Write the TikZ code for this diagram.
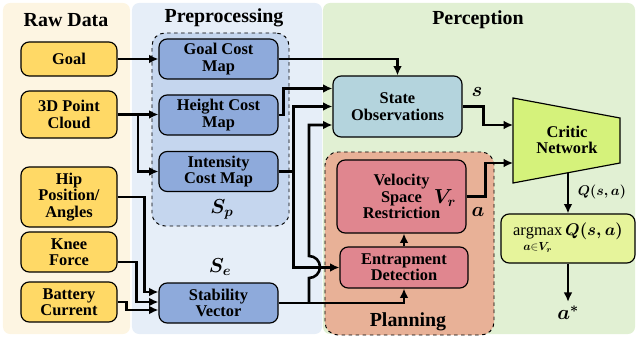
\documentclass[tikz,border=0pt]{standalone}
\usepackage{amsmath}
\usepackage{fontspec}
\setmainfont{Liberation Serif}
\usetikzlibrary{shapes, arrows.meta, calc, positioning}

\definecolor{rawback}{HTML}{FDF5E2}
\definecolor{preback}{HTML}{E6EEF8}
\definecolor{perback}{HTML}{E1F0D3}
\definecolor{grpfill}{HTML}{C5D6EE}
\definecolor{planfill}{HTML}{E8B197}
\definecolor{rawfill}{HTML}{FFD966}
\definecolor{mapfill}{HTML}{8EAADB}
\definecolor{statefill}{HTML}{B4D4DD}
\definecolor{criticfill}{HTML}{D5F27B}
\definecolor{maxfill}{HTML}{E6F49B}
\definecolor{redfill}{HTML}{E0868F}

\tikzset{
  box/.style = {draw, line width=1pt, rounded corners=7pt, align=center,
                font=\fontsize{14}{14}\selectfont\bfseries},
  rawbox/.style = {box, fill=rawfill, minimum width=2.88cm},
  mapbox/.style = {box, fill=mapfill, minimum width=3.57cm, minimum height=1.2cm},
  redbox/.style = {box, fill=redfill},
  group/.style = {draw, dashed, line width=0.8pt, rounded corners=11pt},
  panel/.style = {rounded corners=6pt, minimum height=9.93cm},
  title/.style = {font=\fontsize{17}{17}\selectfont\bfseries},
  symb/.style = {font=\fontsize{17}{17}\selectfont},
  link/.style = {line width=2.2pt, -{Latex[length=8pt, width=7.5pt]}}
}

\begin{document}
\begin{tikzpicture}[x=0.03cm, y=-0.03cm]
                \useasboundingbox (0,0) rectangle (637,339);

                % panels
                \node [panel, fill=rawback, minimum width=3.81cm] (rawpanel) at (66.5,168.5) {};
                \node [panel, fill=preback, minimum width=5.70cm] (prepanel) at (227,168.5) {};
                \node [panel, fill=perback, minimum width=9.36cm] (perpanel) at (479,168.5) {};

                \node [title] (rawtitle) at (66,20) {Raw Data};
                \node [title] (pretitle) at (224,18) {Preprocessing};
                \node [title] (pertitle) at (478,20) {Perception};

                % dashed groups
                \node [group, fill=grpfill, minimum width=4.11cm, minimum height=5.79cm] (pregroup) at (220.5,129.5) {};
                \node [group, fill=planfill, minimum width=5.07cm, minimum height=5.49cm] (plangroup) at (409.5,243.5) {};

                % raw data
                \node [rawbox, minimum height=1.02cm] (goal) at (69,59) {Goal};
                \node [rawbox, minimum height=1.41cm] (cloud) at (69,114.5) {3D Point\\Cloud};
                \node [rawbox, minimum height=1.80cm] (hip) at (69,197) {Hip\\Position/\\Angles};
                \node [rawbox, minimum height=1.20cm] (knee) at (69,252) {Knee\\Force};
                \node [rawbox, minimum height=1.20cm] (battery) at (69,302) {Battery\\Current};

                % preprocessing
                \node [mapbox] (goalmap) at (218.5,59) {Goal Cost\\Map};
                \node [mapbox] (heightmap) at (218.5,115) {Height Cost\\Map};
                \node [mapbox] (intmap) at (218.5,171.5) {Intensity\\Cost Map};
                \node [mapbox] (stab) at (218.5,303) {Stability\\Vector};
                \node [symb] (sp) at (222,209) {$\boldsymbol{S_p}$};
                \node [symb] (se) at (220,267) {$\boldsymbol{S_e}$};

                % perception
                \node [box, fill=statefill, minimum width=3.87cm, minimum height=1.83cm] (state) at (397.5,106.5) {State\\Observations};
                \node [redbox, minimum width=3.87cm, minimum height=2.19cm] (vsr) at (401.5,196.5) {Velocity\\Space\\Restriction};
                \node [redbox, minimum width=3.84cm, minimum height=1.23cm] (entrap) at (404,267.5) {Entrapment\\Detection};
                \node [symb] (vr) at (445,198) {$\boldsymbol{V_r}$};
                \node [symb] (alabel) at (478,212) {$\boldsymbol{a}$};
                \node [symb] (slabel) at (477,92) {$\boldsymbol{s}$};
                \node [title] (plantitle) at (408,322) {Planning};

                \coordinate (ctl) at (513,98);
                \coordinate (ctr) at (620,118);
                \coordinate (cbr) at (620,163);
                \coordinate (cbl) at (513,183);
                \draw [line width=1pt, fill=criticfill] (ctl) -- (ctr) -- (cbr) -- (cbl) -- cycle;
                \node [font=\fontsize{14}{14}\selectfont\bfseries, align=center] (critic) at (567,140) {Critic\\Network};
                \coordinate (cin1) at (513,125);
                \coordinate (cin2) at (513,163);
                \coordinate (cout) at (568,173);

                \node [box, fill=maxfill, font=\fontsize{14}{14}\selectfont, minimum width=4.02cm, minimum height=1.47cm] (argmax) at (568,238.5)
                      {$\displaystyle\operatorname*{argmax}_{\boldsymbol{a}\in\boldsymbol{V_r}}\boldsymbol{Q(s,a)}$};
                \node [symb] (astar) at (568,313) {$\boldsymbol{a^*}$};
                \node [font=\fontsize{13}{13}\selectfont] (qlabel) at (602,192) {$\boldsymbol{Q(s,a)}$};

                % raw data to preprocessing
                \coordinate (cloudsplit) at (138,115);
                \draw [link] (goal.east) -- (goalmap.west);
                \draw [link] (cloud.east) -- (cloud.east -| heightmap.west);
                \draw [link] (cloudsplit) |- (intmap.west);
                \draw [link] (hip.east) -| ($(stab.west)+(-14,-11)$) -- ($(stab.west)+(0,-11)$);
                \draw [link] ($(knee.east)+(0,10)$) -| ($(stab.west)+(-22,-1)$) -- ($(stab.west)+(0,-1)$);
                \draw [link] (battery.east) -| ($(stab.west)+(-32,7)$) -- ($(stab.west)+(0,7)$);

                % preprocessing to perception
                \draw [link] (goalmap.east) -| (state.north);
                \draw [link] (heightmap.east) -- ++(5,0) |- ($(state.west)+(0,-18)$);
                \draw [link] (intmap.east) -- ++(15,0) |- (state.west);
                \draw [link] (intmap.east) -- ++(15,0) |- (entrap.west);
                \draw [link] (stab.east) -| (entrap.south);
                \coordinate (stabsplit) at (309,303);
                \coordinate (hop) at (309,267);
                \draw [link] (stabsplit) -- ($(hop)+(0,11)$) arc[start angle=90, end angle=-90, radius=11] |- ($(state.west)+(0,18.5)$);

                % perception
                \draw [link] (entrap.north) -- (entrap.north |- vsr.south);
                \draw [link] (state.east) -- ++(21,0) |- (cin1);
                \draw [link] (vsr.east) -- ++(19,0) |- (cin2);
                \draw [link] (cout) -- (argmax.north);
                \draw [link] (argmax.south) -- (astar.north);
            \end{tikzpicture}
\end{document}
